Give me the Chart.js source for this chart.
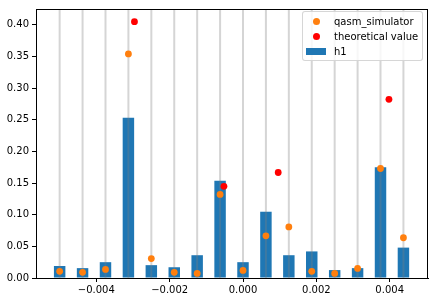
<!DOCTYPE html>
<html>
<head>
<meta charset="utf-8">
<script src="https://cdn.jsdelivr.net/npm/chart.js@4/dist/chart.umd.min.js"></script>
<style>
  body { margin: 0; background: #fff; }
  #wrap { position: relative; width: 437px; height: 301px; }
  #legend {
    position: absolute; left: 302px; top: 11px; width: 119px; height: 48px;
    border: 1px solid rgba(204,204,204,0.8); border-radius: 3px;
    background: rgba(255,255,255,0.8);
    font-family: "DejaVu Sans", sans-serif; font-size: 10px; color: #000;
  }
  .item { position: absolute; left: 0; height: 15px; line-height: 15px; }
  .item span.txt { position: absolute; left: 31px; white-space: nowrap; }
  .dot { position: absolute; left: 10px; top: 4px; width: 7px; height: 7px; border-radius: 50%; }
  .patch { position: absolute; left: 3px; top: 4px; width: 20px; height: 7px; }
</style>
</head>
<body>
<div id="wrap">
  <canvas id="myChart" width="437" height="301"></canvas>
  <div id="legend"></div>
</div>
<script>
// bin centres of the histogram
const binCenters = [-0.005, -0.004375, -0.00375, -0.003125, -0.0025, -0.001875, -0.00125, -0.000625,
                    0, 0.000625, 0.00125, 0.001875, 0.0025, 0.003125, 0.00375, 0.004375];
const h1 = [0.019, 0.0156, 0.025, 0.253, 0.0203, 0.017, 0.036, 0.1536,
            0.025, 0.1047, 0.036, 0.042, 0.0125, 0.0156, 0.175, 0.048];
const qasm = [0.0105, 0.0089, 0.0136, 0.354, 0.0307, 0.0089, 0.0073, 0.132,
              0.012, 0.0667, 0.0807, 0.0105, 0.0073, 0.0151, 0.173, 0.0636];
const theoryX = [-0.00296, -0.00052, 0.00096, 0.00398];
const theoryY = [0.405, 0.1448, 0.1667, 0.2823];
const yTicks = [0, 0.05, 0.10, 0.15, 0.20, 0.25, 0.30, 0.35, 0.40];

const FONT = { family: 'DejaVu Sans', size: 10 };

const binLines = {
  id: 'binLines',
  afterDatasetDraw(chart, args) {
    if (args.meta.type !== 'bar') return;
    const ctx = chart.ctx, area = chart.chartArea, xs = chart.scales.x;
    ctx.save();
    ctx.strokeStyle = 'rgba(128,128,128,0.33)';
    ctx.lineWidth = 2;
    binCenters.forEach(c => {
      const px = xs.getPixelForValue(c);
      ctx.beginPath();
      ctx.moveTo(px, area.top);
      ctx.lineTo(px, area.bottom);
      ctx.stroke();
    });
    ctx.restore();
  },
  afterDraw(chart) {
    const ctx = chart.ctx, a = chart.chartArea;
    ctx.save();
    ctx.strokeStyle = '#000';
    ctx.lineWidth = 1;
    ctx.strokeRect(Math.round(a.left) + 0.5, Math.round(a.top) + 0.5,
                   Math.round(a.right - a.left) - 1, Math.round(a.bottom - a.top));
    ctx.restore();
  }
};

const fmtX = v => {
  const s = (Math.abs(v) < 1e-9 ? 0 : v).toFixed(3);
  return s.replace('-', '\u2212');
};

const ctx = document.getElementById('myChart');
const myChart = new Chart(ctx, {
  type: 'bar',
  data: {
    datasets: [
      {
        type: 'scatter',
        label: 'qasm_simulator',
        data: binCenters.map((x, i) => ({ x: x, y: qasm[i] })),
        backgroundColor: '#ff7f0e',
        borderWidth: 0,
        pointRadius: 3.4,
        order: 1
      },
      {
        type: 'scatter',
        label: 'theoretical value',
        data: theoryX.map((x, i) => ({ x: x, y: theoryY[i] })),
        backgroundColor: '#ff0000',
        borderWidth: 0,
        pointRadius: 3.4,
        order: 2
      },
      {
        type: 'bar',
        label: 'h1',
        data: binCenters.map((x, i) => ({ x: x, y: h1[i] })),
        backgroundColor: '#1f77b4',
        borderWidth: 0,
        categoryPercentage: 1,
        barPercentage: 0.5,
        order: 3
      }
    ]
  },
  options: {
    responsive: false,
    animation: false,
    layout: { padding: { top: 6, right: 9, left: 0, bottom: 0 } },
    plugins: { legend: { display: false }, tooltip: { enabled: false } },
    scales: {
      x: {
        type: 'linear',
        min: -0.005645,
        max: 0.005045,
        offset: false,
        grid: { display: true, offset: false, drawOnChartArea: false, drawTicks: true, tickLength: 4, tickColor: '#000' },
        border: { display: true, color: '#000' },
        ticks: { stepSize: 0.002, includeBounds: false, color: '#000', font: FONT, padding: 2, maxRotation: 0, callback: fmtX },
        afterFit(scale) { scale.height = 23; }
      },
      y: {
        type: 'linear',
        min: 0,
        max: 0.425,
        grid: { display: true, drawOnChartArea: false, drawTicks: true, tickLength: 4, tickColor: '#000' },
        border: { display: true, color: '#000' },
        ticks: { stepSize: 0.05, includeBounds: false, color: '#000', font: FONT, padding: 3,
                 callback: v => v.toFixed(2) },
        afterBuildTicks(scale) { scale.ticks = yTicks.map(v => ({ value: v })); },
        afterFit(scale) { scale.width = 36; }
      }
    }
  },
  plugins: [binLines]
});

// legend inside the axes, in the matplotlib order
const legend = document.getElementById('legend');
myChart.data.datasets.forEach((ds, i) => {
  const item = document.createElement('div');
  item.className = 'item';
  item.style.top = (2 + i * 15) + 'px';
  item.style.width = '100%';
  const mark = document.createElement('div');
  mark.className = ds.type === 'bar' ? 'patch' : 'dot';
  mark.style.background = ds.backgroundColor;
  const txt = document.createElement('span');
  txt.className = 'txt';
  txt.textContent = ds.label;
  item.appendChild(mark);
  item.appendChild(txt);
  legend.appendChild(item);
});
</script>
</body>
</html>
